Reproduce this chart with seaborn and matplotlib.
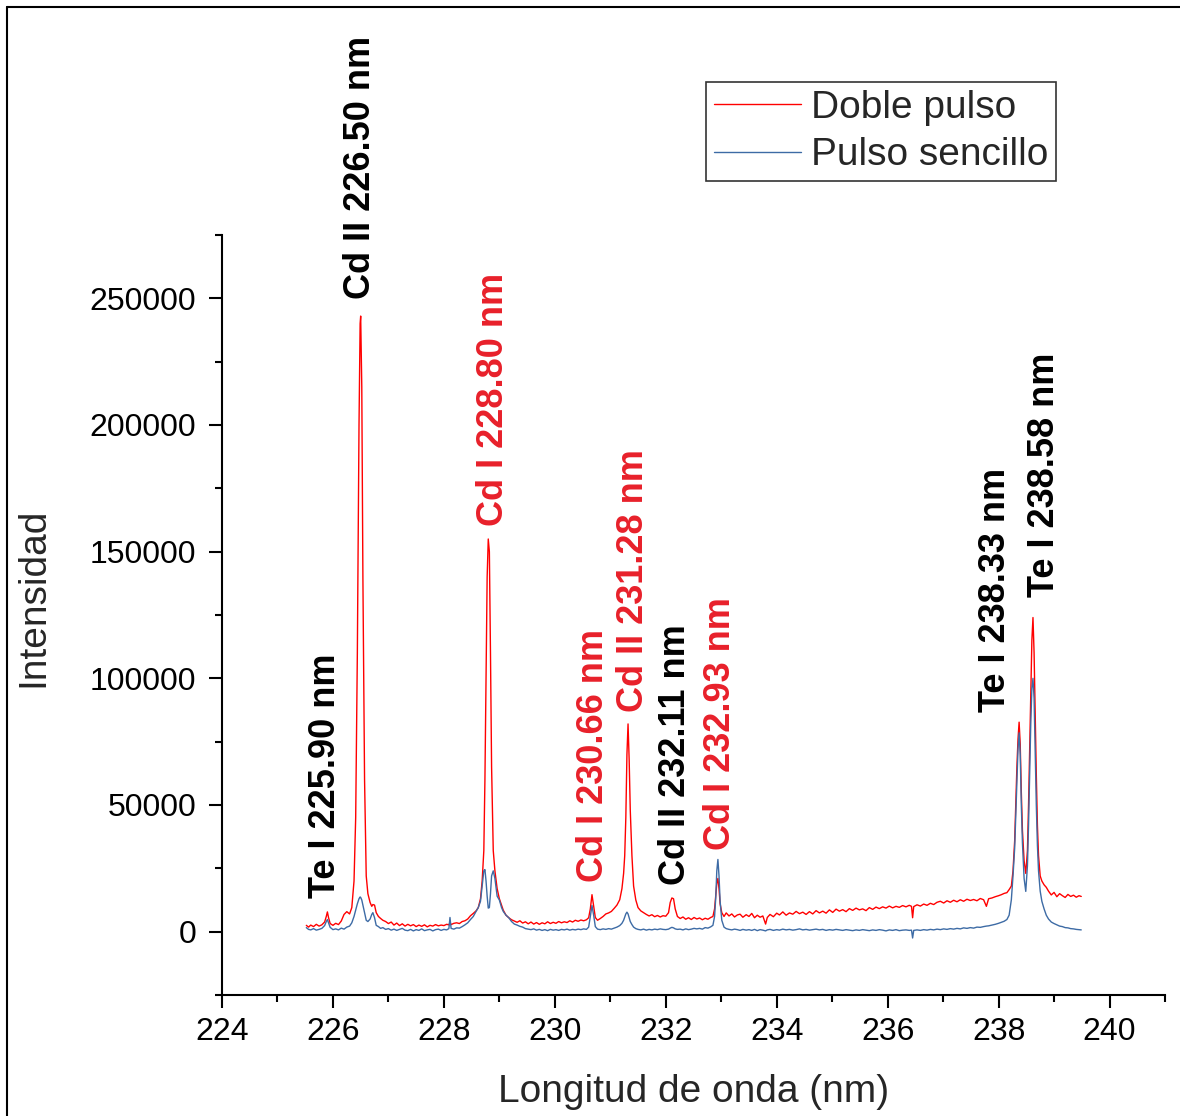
import numpy as np
import pandas as pd
import matplotlib
matplotlib.use("Agg")
import matplotlib.pyplot as plt
from matplotlib.ticker import MultipleLocator, FixedLocator
from matplotlib.lines import Line2D
import seaborn as sns

# ---------------- data ----------------
wavelength = [
    225.52, 225.56, 225.60, 225.65, 225.70, 225.75, 225.80, 225.85, 225.88, 225.90,
    225.92, 225.95, 226.00, 226.05, 226.10, 226.15, 226.20, 226.25, 226.30, 226.34,
    226.38, 226.41, 226.44, 226.47, 226.49, 226.50, 226.52, 226.54, 226.57, 226.60,
    226.63, 226.67, 226.70, 226.72, 226.75, 226.78, 226.82, 226.86, 226.90, 226.95,
    227.00, 227.05, 227.10, 227.15, 227.20, 227.25, 227.30, 227.35, 227.40, 227.45,
    227.50, 227.55, 227.60, 227.65, 227.70, 227.75, 227.80, 227.85, 227.90, 227.95,
    228.00, 228.05, 228.09, 228.11, 228.13, 228.18, 228.23, 228.28, 228.33, 228.38,
    228.43, 228.48, 228.53, 228.58, 228.62, 228.66, 228.69, 228.72, 228.74, 228.76,
    228.78, 228.80, 228.82, 228.84, 228.86, 228.89, 228.92, 228.96, 229.00, 229.04,
    229.07, 229.12, 229.17, 229.22, 229.27, 229.32, 229.37, 229.42, 229.47, 229.52,
    229.57, 229.62, 229.67, 229.72, 229.77, 229.82, 229.87, 229.92, 229.97, 230.02,
    230.07, 230.12, 230.17, 230.22, 230.27, 230.32, 230.37, 230.42, 230.47, 230.52,
    230.57, 230.61, 230.64, 230.67, 230.70, 230.73, 230.77, 230.82, 230.87, 230.92,
    230.97, 231.02, 231.07, 231.12, 231.17, 231.21, 231.24, 231.26, 231.28, 231.30,
    231.32, 231.34, 231.36, 231.39, 231.42, 231.46, 231.50, 231.55, 231.60, 231.65,
    231.70, 231.75, 231.80, 231.85, 231.90, 231.95, 232.00, 232.05, 232.08, 232.11,
    232.14, 232.17, 232.21, 232.26, 232.31, 232.36, 232.41, 232.46, 232.51, 232.56,
    232.61, 232.66, 232.71, 232.76, 232.81, 232.85, 232.88, 232.90, 232.92, 232.94,
    232.96, 232.98, 233.01, 233.05, 233.09, 233.14, 233.19, 233.24, 233.29, 233.34,
    233.39, 233.45, 233.50, 233.55, 233.60, 233.65, 233.70, 233.75, 233.80, 233.83,
    233.88, 233.94, 234.00, 234.05, 234.11, 234.17, 234.23, 234.29, 234.35, 234.41,
    234.47, 234.53, 234.59, 234.65, 234.71, 234.77, 234.83, 234.89, 234.95, 235.01,
    235.07, 235.13, 235.19, 235.25, 235.31, 235.37, 235.43, 235.49, 235.55, 235.61,
    235.67, 235.73, 235.79, 235.85, 235.91, 235.97, 236.03, 236.09, 236.15, 236.21,
    236.27, 236.33, 236.39, 236.43, 236.45, 236.47, 236.53, 236.59, 236.65, 236.71,
    236.77, 236.83, 236.89, 236.95, 237.01, 237.07, 237.13, 237.19, 237.25, 237.31,
    237.37, 237.43, 237.49, 237.55, 237.61, 237.67, 237.73, 237.78, 237.82, 237.88,
    237.94, 238.00, 238.05, 238.10, 238.15, 238.19, 238.23, 238.26, 238.29, 238.31,
    238.33, 238.35, 238.37, 238.39, 238.41, 238.43, 238.46, 238.49, 238.52, 238.54,
    238.56, 238.58, 238.60, 238.62, 238.64, 238.66, 238.68, 238.70, 238.72, 238.75,
    238.78, 238.82, 238.86, 238.90, 238.95, 239.00, 239.05, 239.10, 239.15, 239.20,
    239.25, 239.30, 239.35, 239.40, 239.45, 239.49,
]

doble_pulso = [
    2500, 1800, 2600, 2000, 2900, 2200, 2700, 3800, 6000, 7800,
    5600, 3200, 2500, 3300, 2800, 4200, 6800, 7900, 7000, 9500,
    20000, 45000, 110000, 200000, 240000, 243000, 215000, 140000, 60000, 22000,
    15000, 11500, 10000, 10700, 10500, 7500, 6000, 5200, 4500, 4000,
    3200, 3800, 2600, 3400, 2400, 3100, 2200, 2900, 2300, 2800,
    2000, 2600, 2100, 2700, 1900, 2500, 2200, 2800, 2300, 2600,
    2400, 2900, 2700, 3600, 2800, 3300, 3500, 3200, 4000, 4300,
    5000, 6300, 7200, 8200, 9500, 13000, 20000, 32000, 60000, 100000,
    140000, 155000, 150000, 110000, 65000, 32000, 24000, 17000, 13000, 10500,
    8500, 6500, 5500, 4700, 4200, 3700, 4300, 3400, 3900, 3100,
    3800, 3000, 3600, 2900, 3500, 3100, 3900, 3200, 3700, 3300,
    4000, 3500, 3900, 3600, 4300, 3800, 4500, 4100, 4600, 4300,
    4700, 5500, 9000, 14600, 10000, 5600, 4500, 5200, 6000, 7000,
    7400, 8000, 9200, 10500, 12600, 17000, 23000, 30000, 45000, 70000,
    82000, 68000, 48000, 30000, 18000, 12500, 9500, 8200, 7500, 6800,
    6200, 6700, 5900, 6400, 5800, 6300, 6100, 7500, 11500, 13300,
    13000, 9000, 6000, 5200, 5800, 4900, 5500, 4800, 5600, 5000,
    5400, 4700, 5300, 4900, 5600, 6000, 9000, 14000, 19000, 21000,
    17000, 11000, 7500, 6000, 7400, 6200, 7000, 5800, 6600, 6900,
    5700, 6700, 6000, 7200, 5500, 6500, 5700, 6200, 3000, 5600,
    6800, 5900, 7300, 6600, 7800, 6500, 7400, 6900, 8000, 7100,
    7700, 6800, 7900, 7000, 8300, 7400, 8100, 7300, 8600, 7600,
    8900, 8100, 8700, 7900, 9100, 8400, 9300, 8600, 9000, 8300,
    9500, 8800, 9700, 9100, 9800, 9300, 10100, 9400, 10000, 9600,
    10300, 9800, 10400, 10000, 5500, 9900, 10600, 10100, 10900, 10400,
    11200, 10700, 11600, 12000, 11300, 12200, 11600, 12400, 11800, 12600,
    12000, 12800, 12300, 12700, 12200, 13100, 12600, 10000, 13000, 13300,
    13800, 14200, 14600, 15100, 15400, 16600, 18000, 24000, 36000, 50000,
    65000, 76000, 82700, 74000, 55000, 40000, 28000, 23000, 32000, 50000,
    72000, 95000, 115000, 124000, 110000, 85000, 62000, 42000, 30000, 22000,
    20000, 18500, 17500, 16000, 14500, 15500, 13800, 15000, 14200, 13500,
    14700, 13900, 14400, 13600, 14200, 13900,
]

pulso_sencillo = [
    1600, 900, 700, 1200, 600, 900, 1300, 2400, 4000, 4800,
    3500, 1700, 800, 1100, 700, 1400, 1000, 1800, 2200, 3500,
    6000, 8500, 11000, 13000, 13700, 13500, 12500, 10500, 7500, 4500,
    4000, 5000, 6800, 7500, 5500, 2500, 2000, 1300, 1600, 900,
    1200, 600, 1000, 500, 900, 1300, 600, 400, 900, 300,
    800, 500, 1100, 400, 700, 900, 300, 800, 1000, 500,
    900, 700, 1200, 5600, 1300, 1000, 1500, 1400, 2000, 2700,
    3500, 4800, 6000, 8000, 9500, 12000, 18000, 24000, 24500, 20000,
    14000, 9300, 9500, 15000, 22000, 24000, 21000, 14000, 12500, 9500,
    8000, 6500, 5500, 4000, 3000, 2600, 2100, 1800, 1200, 1000,
    800, 1100, 600, 900, 500, 800, 400, 900, 600, 800,
    500, 900, 700, 1000, 600, 900, 700, 1000, 800, 1100,
    900, 1800, 6000, 10300, 6500, 2000, 1000, 800, 1100, 900,
    1200, 1000, 1400, 1800, 2400, 3300, 4500, 5800, 7000, 7700,
    7000, 5500, 4000, 2800, 1800, 1200, 900, 700, 1000, 600,
    900, 700, 1000, 800, 1100, 900, 800, 1000, 1400, 1700,
    1500, 1100, 900, 1000, 700, 1100, 800, 1000, 1300, 1100,
    1300, 1000, 1600, 1400, 1900, 2500, 6000, 13000, 24000, 28500,
    22000, 12000, 4500, 1800, 1200, 900, 700, 1000, 800, 500,
    900, 600, 800, 500, 900, 400, 800, 600, 300, 700,
    900, 500, 800, 600, 1000, 700, 900, 600, 800, 1100,
    700, 900, 600, 800, 1000, 700, 900, 500, 800, 600,
    900, 700, 500, 800, 600, 400, 700, 500, 800, 600,
    400, 700, 500, 800, 600, 300, 700, 500, 800, 400,
    600, 700, 500, 600, -2500, 500, 700, 500, 800, 600,
    900, 700, 1000, 800, 1100, 900, 1200, 1000, 1300, 1100,
    1500, 1300, 1600, 1400, 1800, 1700, 2000, 2200, 2300, 2600,
    2900, 3300, 3700, 4100, 4800, 6500, 12600, 22000, 33000, 46000,
    60000, 72000, 78500, 70000, 50000, 35000, 21000, 15900, 26000, 42000,
    62000, 82000, 96000, 100000, 92000, 70000, 50000, 34000, 24000, 16000,
    12000, 9000, 6500, 5000, 3800, 3200, 2700, 2200, 2000, 1600,
    1500, 1200, 1100, 900, 800, 700,
]

series_names = ["Doble pulso", "Pulso sencillo"]

line_labels = ["Te I 225.90 nm", "Cd II 226.50 nm", "Cd I 228.80 nm",
               "Cd I 230.66 nm", "Cd II 231.28 nm", "Cd II 232.11 nm",
               "Cd I 232.93 nm", "Te I 238.33 nm", "Te I 238.58 nm"]
label_wavelength = [225.86, 226.50, 228.90, 230.70, 231.42, 232.18, 232.99, 237.95, 238.83]
label_intensity = [13400, 249600, 160000, 19700, 86900, 18600, 32400, 86900, 132000]
label_is_red = [False, False, True, True, True, False, True, False, False]

x_ticks = [224, 226, 228, 230, 232, 234, 236, 238, 240]
y_ticks = [0, 50000, 100000, 150000, 200000, 250000]

assert len(wavelength) == len(doble_pulso) == len(pulso_sencillo)

# ---------------- build long table ----------------
df = pd.concat([
    pd.DataFrame({"wl": wavelength, "I": doble_pulso, "serie": series_names[0]}),
    pd.DataFrame({"wl": wavelength, "I": pulso_sencillo, "serie": series_names[1]}),
], ignore_index=True)

# ---------------- style ----------------
sns.set_theme(style="white")
plt.rcParams["font.family"] = ["Liberation Sans", "DejaVu Sans"]

RED = "#ff0000"
BLUE = "#3d6ba5"
TXT_RED = "#e8202a"

fig = plt.figure(figsize=(11.8, 11.16), dpi=100)
ax = fig.add_axes([222 / 1180, 1 - 995 / 1116, (1165 - 222) / 1180, (995 - 235) / 1116])

sns.lineplot(data=df, x="wl", y="I", hue="serie", hue_order=series_names,
             palette={series_names[0]: RED, series_names[1]: BLUE},
             estimator=None, errorbar=None, linewidth=1.0, legend=False, ax=ax)

ax.set_xlim(224, 241)
ax.set_ylim(-25000, 275000)
ax.xaxis.set_major_locator(FixedLocator(x_ticks))
ax.xaxis.set_minor_locator(MultipleLocator(1))
ax.yaxis.set_major_locator(FixedLocator(y_ticks))
ax.yaxis.set_minor_locator(MultipleLocator(25000))
ax.ticklabel_format(style="plain", axis="y", useOffset=False)

for s in ["top", "right"]:
    ax.spines[s].set_visible(False)
for s in ["left", "bottom"]:
    ax.spines[s].set_linewidth(1.5)
    ax.spines[s].set_color("black")

ax.tick_params(which="major", direction="out", length=9.5, width=1.5,
               colors="black", labelsize=23)
ax.tick_params(which="minor", direction="out", length=5, width=1.5, colors="black")
ax.tick_params(axis="x", which="both", bottom=True, pad=6)
ax.tick_params(axis="y", which="both", left=True, pad=9)
ax.grid(False)

ax.set_xlabel("Longitud de onda (nm)", fontsize=28, va="center")
ax.xaxis.set_label_coords(0.5, (995 - 1092) / 760)
ax.set_ylabel("Intensidad", fontsize=28, va="center")
ax.yaxis.set_label_coords((33 - 222) / 943, 1 - (597 - 235) / 760)

for txt, xw, yi, isred in zip(line_labels, label_wavelength, label_intensity, label_is_red):
    ax.text(xw, yi, txt, rotation=90, ha="center", va="bottom",
            fontsize=26, fontweight="bold", color=TXT_RED if isred else "black",
            clip_on=False)

handles = ax.get_lines()[:2]
leg = ax.legend(handles=handles, labels=series_names, loc="upper left",
                bbox_to_anchor=(706 / 1180, 1 - 82 / 1116), bbox_transform=fig.transFigure,
                borderaxespad=0, fontsize=28, frameon=True, fancybox=False,
                edgecolor="black", handlelength=2.25, handletextpad=0.25,
                borderpad=0.2, labelspacing=0.3)
leg.get_frame().set_linewidth(1.2)
for lh in leg.get_lines():
    lh.set_linewidth(1.0)

# figure border (left and top)
fig.add_artist(Line2D([7 / 1180, 7 / 1180], [0, 1 - 7 / 1116], transform=fig.transFigure,
                      color="black", linewidth=1.5))
fig.add_artist(Line2D([7 / 1180, 1], [1 - 7 / 1116, 1 - 7 / 1116], transform=fig.transFigure,
                      color="black", linewidth=1.5))

fig.savefig("out.png", dpi=100)
